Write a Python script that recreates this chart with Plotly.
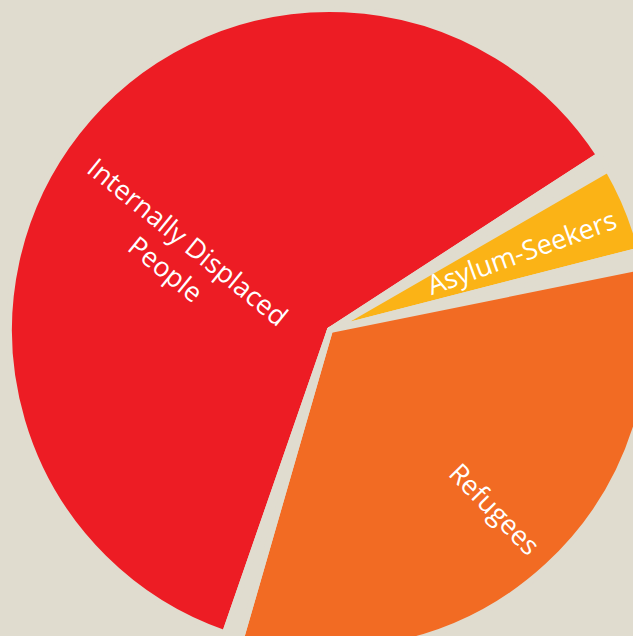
import math
import plotly.graph_objects as go

# ---- data (millions of people) ----
categories = ["Internally Displaced People", "Asylum-Seekers", "Refugees"]
values_millions = [40.6, 2.9, 21.9]
label_texts = ["Internally Displaced<br>People", "Asylum-Seekers", "Refugees"]
slice_colors = ["#ED1C24", "#FBB316", "#F26B23"]

# ---- style ----
BG = "#E0DCCF"
W = H = 660
M = 9
GAP_DEG = 3.0           # angular padding between slices
START_BEARING = 199.1   # clockwise from 12 o'clock, start of first slice
LINE_W = 6
LABEL_RADIAL = [0.53, 0.645, 0.758]
LABEL_BEARING_OFFSET = [-12, 0, 0]
LABEL_ANGLE_OFFSET = [1.0, 2.4, -1.8]
FONT = "Open Sans"
FONT_SIZE = 27
FONT_WEIGHT = 500

total = sum(values_millions)
n = len(values_millions)
gap_val = GAP_DEG * total / (360 - n * GAP_DEG)

pie_labels, pie_values, pie_colors = [], [], []
for i, (cat, v, c) in enumerate(zip(categories, values_millions, slice_colors)):
    pie_labels += [cat, "gap%d" % i]
    pie_values += [v, gap_val]
    pie_colors += [c, "rgba(0,0,0,0)"]

fig = go.Figure(go.Pie(
    labels=pie_labels,
    values=pie_values,
    sort=False,
    direction="clockwise",
    rotation=START_BEARING,
    marker=dict(colors=pie_colors, line=dict(color=BG, width=LINE_W)),
    textinfo="none",
    hoverinfo="none",
    showlegend=False,
))

# label positions derived from slice bisectors
grand = total + n * gap_val
ang = START_BEARING
mids = []
for v in values_millions:
    span = 360 * v / grand
    mids.append(ang + span / 2)
    ang += span + 360 * gap_val / grand

R = (W - 2 * M) / 2
cx, cy = W / 2, H / 2
annotations = []
for txt, b, f, off, aoff in zip(label_texts, mids, LABEL_RADIAL,
                                LABEL_BEARING_OFFSET, LABEL_ANGLE_OFFSET):
    bb = math.radians(b + off)
    px = cx + f * R * math.sin(bb)
    py = cy - f * R * math.cos(bb)
    a = (b - 90) % 360
    if a > 180:
        a -= 360
    if a > 90:
        a -= 180
    if a < -90:
        a += 180
    annotations.append(dict(
        x=(px - M) / (W - 2 * M), y=1 - (py - M) / (H - 2 * M),
        xref="paper", yref="paper", text=txt, showarrow=False,
        textangle=a + aoff, xanchor="center", yanchor="middle",
        font=dict(family=FONT, size=FONT_SIZE, color="white", weight=FONT_WEIGHT),
    ))

fig.update_layout(
    width=W, height=H,
    margin=dict(l=M, r=M, t=M, b=M),
    paper_bgcolor=BG, plot_bgcolor=BG,
    annotations=annotations,
)

page_css = (
    "document.body.style.margin='0';"
    "document.body.style.overflow='hidden';"
    "document.body.style.background='%s';"
    "document.documentElement.style.overflow='hidden';"
    "document.documentElement.style.background='%s';" % (BG, BG)
)
fig.write_html("out.html", config={"displayModeBar": False}, post_script=page_css)
